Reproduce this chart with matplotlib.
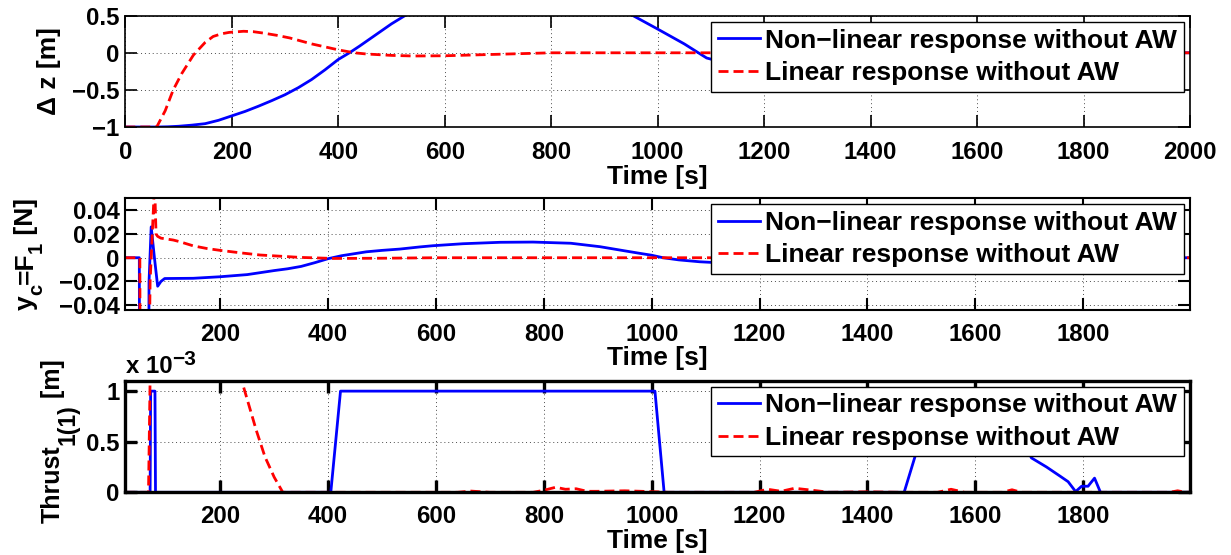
import matplotlib
matplotlib.use("Agg")
import matplotlib.pyplot as plt
import numpy as np

# ---------------- data ----------------
# Panel 1: Delta z [m]
t_z_nl = [0, 60, 80, 100, 125, 150, 175, 200, 225, 250, 275, 300, 325, 350, 375, 400, 421,
          440, 460, 480, 500, 525, 600, 650, 700, 750, 800, 850, 900, 954, 1000, 1050, 1092,
          1150, 1200, 1300, 1500, 1700, 1900, 2000]
z_nl = [-1, -1, -0.997, -0.99, -0.975, -0.955, -0.91, -0.85, -0.79, -0.72, -0.645, -0.565,
        -0.47, -0.36, -0.23, -0.09, 0, 0.09, 0.19, 0.29, 0.39, 0.5, 0.82, 0.94, 1.0, 1.02,
        0.99, 0.88, 0.72, 0.5, 0.32, 0.12, -0.07, -0.18, -0.22, -0.24, -0.18, -0.08, 0, 0]
t_z_lin = [0, 59, 75, 90, 106, 128, 150, 165, 180, 195, 222, 240, 260, 285, 309, 350, 400,
           430, 453, 500, 541, 600, 700, 800, 1000, 1200, 1500, 2000]
z_lin = [-1, -1, -0.78, -0.5, -0.28, -0.03, 0.14, 0.22, 0.255, 0.275, 0.29, 0.285, 0.265,
         0.235, 0.2, 0.12, 0.04, 0.0, -0.016, -0.035, -0.043, -0.04, -0.02, 0.0, 0.0, 0.0,
         0.0, 0.0]

# Panel 2: y_c = F_1 [N]
t_f_nl = [24, 50, 51, 65, 66, 68, 72, 78, 84, 90, 97, 150, 200, 250, 300, 325, 350, 375,
          400, 425, 450, 471, 500, 533, 570, 594, 650, 719, 780, 850, 904, 950, 978, 1000,
          1021, 1050, 1089, 1200, 1400, 1600, 1800, 2000]
f_nl = [0, 0, -0.3, -0.3, -0.3, -0.02, 0.026, 0.0, -0.024, -0.02, -0.0175, -0.0173, -0.016,
        -0.0142, -0.0108, -0.0093, -0.0073, -0.0042, -0.0008, 0.0017, 0.0035, 0.005, 0.0062,
        0.0073, 0.0091, 0.0101, 0.0118, 0.013, 0.0132, 0.0122, 0.0093, 0.0058, 0.0037, 0.0021,
        0.0, -0.0018, -0.0034, -0.006, -0.004, -0.001, 0.0, 0.0]
t_f_lin = [24, 51, 52, 65, 70, 77, 78.5, 81, 84, 90, 113, 125, 150, 175, 200, 240, 274, 348,
           410, 500, 600, 2000]
f_lin = [0, 0, -0.2, -0.2, -0.02, 0.05, 0.06, 0.02, 0.018, 0.0165, 0.0149, 0.0135, 0.01,
         0.0078, 0.0062, 0.004, 0.0023, 0.0003, -0.0006, -0.0004, 0.0, 0.0]

# Panel 3: Thrust_1(1) [m], in units of 1e-3
t_th_nl = [24, 70, 71, 79, 80, 405, 423, 1006, 1023, 1468, 1488, 1510, 1530, 1640, 1680,
           1704, 1732, 1757, 1772, 1786, 1797, 1809, 1821, 1832, 2000]
th_nl = [0, 0, 1, 1, 0, 0, 1, 1, 0, 0, 0.35, 0.8, 1.0, 1.0, 0.6, 0.34, 0.25, 0.16, 0.105,
         0.007, 0.06, 0.06, 0.14, 0.0, 0.0]
t_th_lin = [24, 67, 71, 80, 150, 230, 240, 267, 283, 300, 316, 640, 665, 700, 780, 800, 822,
            840, 860, 880, 900, 950, 1010, 1030, 1190, 1215, 1240, 1265, 1290, 1330, 1400,
            1460, 1530, 1555, 1580, 1650, 1668, 1685, 1960, 1975, 1990, 2000]
th_lin = [0, 0, 1.5, 3, 3, 1.5, 1.1, 0.61, 0.35, 0.15, 0.0, 0.0, 0.012, 0.0, 0.0, 0.02,
          0.05, 0.03, 0.035, 0.01, 0.01, 0.015, 0.005, 0.0, 0.0, 0.03, 0.01, 0.04, 0.025, 0.0,
          0.005, 0.0, 0.0, 0.03, 0.0, 0.0, 0.025, 0.0, 0.0, 0.015, 0.0, 0.0]

label_nl = "Non\u2212linear response without AW"
label_lin = "Linear response without AW"

# ---------------- style ----------------
plt.rcParams['font.family'] = ['Liberation Sans', 'DejaVu Sans']
plt.rcParams['font.weight'] = 'bold'
plt.rcParams['axes.unicode_minus'] = True

TICK_FS = 17.3
TEXT_FS = 19.0
SUB_FS = 14.5

W, H = 1231, 555
fig = plt.figure(figsize=(W / 100, H / 100), dpi=100)
renderer = fig.canvas.get_renderer()

def px_axes(left, top, right, bottom):
    return fig.add_axes([left / W, 1 - bottom / H, (right - left) / W, (bottom - top) / H])

ax1 = px_axes(125.3, 15.7, 1190, 127)
ax2 = px_axes(125.3, 198, 1190, 310)
ax3 = px_axes(125.3, 380.5, 1190, 492.3)

blue = '#0000ff'
red = '#ff0000'
dash = (3.6, 1.8)

def style(ax, lw, xpad):
    for s in ax.spines.values():
        s.set_linewidth(lw)
        s.set_color('black')
    ax.tick_params(direction='in', length=8.5, width=lw, top=True, right=True,
                   labelsize=TICK_FS, pad=4)
    ax.tick_params(axis='x', pad=xpad)
    ax.grid(True, linestyle=(0, (1, 3)), color='black', linewidth=0.7, alpha=0.7)
    ax.set_axisbelow(True)
    for lab in ax.get_xticklabels() + ax.get_yticklabels():
        lab.set_fontweight('bold')

def legend(ax):
    leg = ax.legend(loc='upper right', bbox_to_anchor=(1, 1), borderaxespad=0.24,
                    fancybox=False, framealpha=1, edgecolor='black', handlelength=1.6,
                    handletextpad=0.2, borderpad=0.25, labelspacing=0.32,
                    prop={'weight': 'bold', 'size': TEXT_FS})
    leg.get_frame().set_linewidth(1.0)
    return leg

def stack_label(pieces, y_bottom_px):
    """Rotated (vertical) label assembled from pieces: (text, size, right_x_px)."""
    y = y_bottom_px
    for s, size, xr in pieces:
        t = fig.text(xr / W, 1 - y / H, s, rotation=90, ha='right', va='bottom',
                     fontsize=size, fontweight='bold')
        bb = t.get_window_extent(renderer)
        y -= bb.height

def xlabel(ax, y_top_px):
    pos = ax.get_position()
    fig.text(pos.x0 + pos.width / 2, 1 - y_top_px / H, 'Time [s]', ha='center', va='top',
             fontsize=TEXT_FS, fontweight='bold')

# Panel 1
ax1.plot(t_z_nl, z_nl, color=blue, lw=2.0, label=label_nl)
ax1.plot(t_z_lin, z_lin, color=red, lw=2.0, dashes=dash, label=label_lin)
ax1.set_xlim(0, 2000)
ax1.set_ylim(-1, 0.5)
ax1.set_xticks(np.arange(0, 2001, 200))
ax1.set_yticks([-1, -0.5, 0, 0.5])
ax1.set_yticklabels(['\u22121', '\u22120.5', '0', '0.5'])
style(ax1, 1.2, 10.4)
legend(ax1)
xlabel(ax1, 164.5)
fig.text(61 / W, 1 - 71 / H, '\u0394 z [m]', rotation=90, ha='right', va='center',
         fontsize=TEXT_FS, fontweight='bold')

# Panel 2
ax2.plot(t_f_nl, f_nl, color=blue, lw=2.0, label=label_nl)
ax2.plot(t_f_lin, f_lin, color=red, lw=2.0, dashes=dash, label=label_lin)
ax2.set_xlim(24, 1998)
ax2.set_ylim(-0.044, 0.0503)
ax2.set_xticks(np.arange(200, 1801, 200))
ax2.set_yticks([-0.04, -0.02, 0, 0.02, 0.04])
ax2.set_yticklabels(['\u22120.04', '\u22120.02', '0', '0.02', '0.04'])
style(ax2, 1.5, 9.5)
legend(ax2)
xlabel(ax2, 346.5)
stack_label([('y', TEXT_FS, 38), ('c', SUB_FS, 46), ('=F', TEXT_FS, 38),
             ('1', SUB_FS, 46), (' [N]', TEXT_FS, 38)], 310)

# Panel 3
ax3.plot(t_th_nl, th_nl, color=blue, lw=2.0, label=label_nl)
ax3.plot(t_th_lin, th_lin, color=red, lw=2.0, dashes=dash, label=label_lin)
ax3.set_xlim(24, 1998)
ax3.set_ylim(0, 1.105)
ax3.set_xticks(np.arange(200, 1801, 200))
ax3.set_yticks([0, 0.5, 1])
ax3.set_yticklabels(['0', '0.5', '1'])
style(ax3, 2.4, 9.0)
legend(ax3)
xlabel(ax3, 529)
stack_label([('Thrust', 18.0, 65), ('1(1)', 16.5, 80), (' [m]', 18.0, 65)], 523)
fig.text(126 / W, 1 - 373 / H, 'x 10', ha='left', va='baseline', fontsize=TICK_FS,
         fontweight='bold')
fig.text(172 / W, 1 - 365 / H, '\u22123', ha='left', va='baseline', fontsize=15,
         fontweight='bold')

fig.savefig('out.png', dpi=100)
